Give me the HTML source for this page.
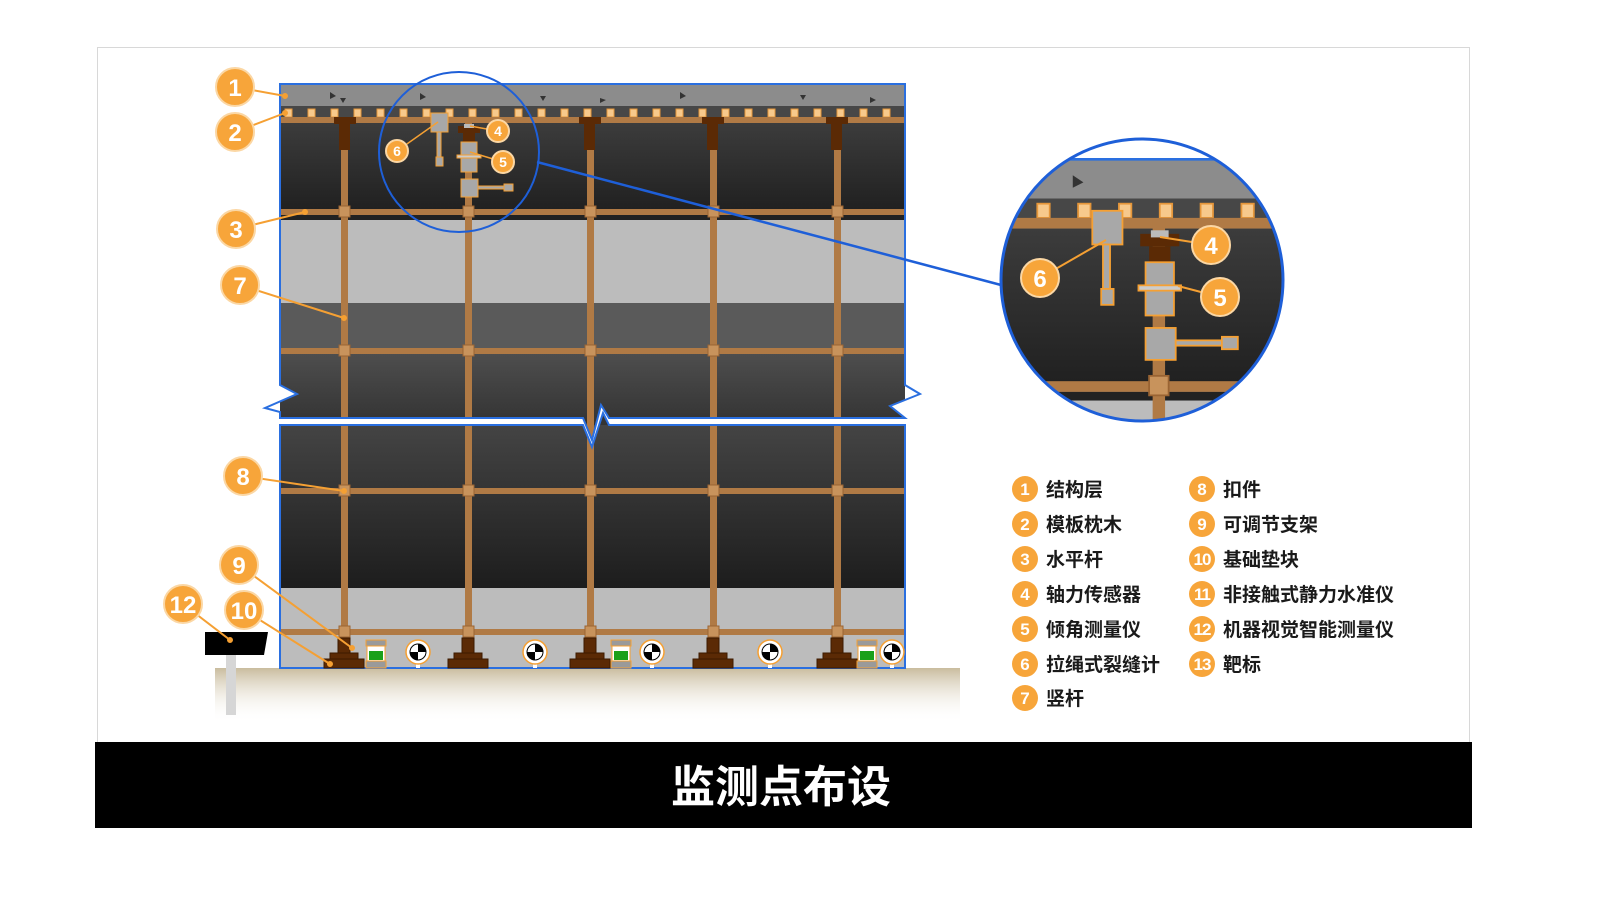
<!DOCTYPE html>
<html><head><meta charset="utf-8"><style>
html,body{margin:0;padding:0;background:#fff;width:1600px;height:898px;overflow:hidden;}
svg{display:block;}
text{font-family:"Liberation Sans","Noto Sans CJK SC",sans-serif;font-weight:bold;}
</style></head><body>
<svg width="1600" height="898" viewBox="0 0 1600 898" xmlns="http://www.w3.org/2000/svg">
<defs>
  <linearGradient id="gTop" x1="0" y1="0" x2="0" y2="1"><stop offset="0" stop-color="#3c3c3c"/><stop offset="1" stop-color="#1f1f1f"/></linearGradient>
  <linearGradient id="gMid" x1="0" y1="0" x2="0" y2="1"><stop offset="0" stop-color="#4e4e4e"/><stop offset="1" stop-color="#333"/></linearGradient>
  <linearGradient id="gLow" x1="0" y1="0" x2="0" y2="1"><stop offset="0" stop-color="#444"/><stop offset="1" stop-color="#1d1d1d"/></linearGradient>
  <linearGradient id="gGround" x1="0" y1="0" x2="0" y2="1"><stop offset="0" stop-color="#c9bc9e"/><stop offset="1" stop-color="#fff" stop-opacity="0"/></linearGradient>
  <clipPath id="cUp"><polygon points="280,84 905,84 905,385 920,394 890,406 905,418 609,418 601,405 592,440 583,418 280,418 280,412 265,408 297,394 280,385"/></clipPath>
  <clipPath id="cLow"><polygon points="280,425 583,425 592,447 603,413 609,425 905,425 905,668 280,668"/></clipPath>
  <clipPath id="cBig"><circle cx="1142" cy="280" r="141"/></clipPath>
  <g id="content">
    <rect x="280" y="84" width="625" height="22" fill="#8c8c8c"/>
    <g fill="#333">
      <polygon points="330,92 336,96 330,99"/><polygon points="340,98 346,98 343,103"/><polygon points="420,93 426,97 420,100"/>
      <polygon points="540,96 546,96 543,101"/><polygon points="600,98 606,100 600,103"/><polygon points="680,92 686,96 680,99"/>
      <polygon points="800,95 806,95 803,100"/><polygon points="870,97 876,100 870,103"/>
    </g>
    <rect x="280" y="106" width="625" height="12" fill="#474747"/>
    <g fill="#f7c98c" stroke="#e5963a" stroke-width="1">
      <rect x="285" y="109" width="7" height="8"/><rect x="308" y="109" width="7" height="8"/><rect x="331" y="109" width="7" height="8"/><rect x="354" y="109" width="7" height="8"/><rect x="377" y="109" width="7" height="8"/><rect x="400" y="109" width="7" height="8"/><rect x="423" y="109" width="7" height="8"/><rect x="446" y="109" width="7" height="8"/><rect x="469" y="109" width="7" height="8"/><rect x="492" y="109" width="7" height="8"/><rect x="515" y="109" width="7" height="8"/><rect x="538" y="109" width="7" height="8"/><rect x="561" y="109" width="7" height="8"/><rect x="584" y="109" width="7" height="8"/><rect x="607" y="109" width="7" height="8"/><rect x="630" y="109" width="7" height="8"/><rect x="653" y="109" width="7" height="8"/><rect x="676" y="109" width="7" height="8"/><rect x="699" y="109" width="7" height="8"/><rect x="722" y="109" width="7" height="8"/><rect x="745" y="109" width="7" height="8"/><rect x="768" y="109" width="7" height="8"/><rect x="791" y="109" width="7" height="8"/><rect x="814" y="109" width="7" height="8"/><rect x="837" y="109" width="7" height="8"/><rect x="860" y="109" width="7" height="8"/><rect x="883" y="109" width="7" height="8"/>
    </g>
    <rect x="280" y="123" width="625" height="92" fill="url(#gTop)"/>
    <rect x="280" y="215" width="625" height="5" fill="#222"/>
    <rect x="280" y="220" width="625" height="83" fill="#bcbcbc"/>
    <rect x="280" y="303" width="625" height="50" fill="#5a5a5a"/>
    <rect x="280" y="353" width="625" height="72" fill="url(#gMid)"/>
    <rect x="280" y="425" width="625" height="163" fill="url(#gLow)"/>
    <rect x="280" y="588" width="625" height="80" fill="#bcbcbc"/>
    <g fill="#b07a45">
      <rect x="280" y="117" width="625" height="6"/>
      <rect x="280" y="209" width="625" height="6"/>
      <rect x="280" y="348" width="625" height="6"/>
      <rect x="280" y="488" width="625" height="6"/>
      <rect x="280" y="629" width="625" height="6"/>
      <rect x="341" y="118" width="7" height="525"/><rect x="465" y="118" width="7" height="525"/><rect x="587" y="118" width="7" height="525"/><rect x="710" y="118" width="7" height="525"/><rect x="834" y="118" width="7" height="525"/>
    </g>
    <g fill="#c8935c" stroke="#9a6433" stroke-width="1">
      <rect x="339" y="206" width="11" height="11"/><rect x="463" y="206" width="11" height="11"/><rect x="585" y="206" width="11" height="11"/><rect x="708" y="206" width="11" height="11"/><rect x="832" y="206" width="11" height="11"/>
      <rect x="339" y="345" width="11" height="11"/><rect x="463" y="345" width="11" height="11"/><rect x="585" y="345" width="11" height="11"/><rect x="708" y="345" width="11" height="11"/><rect x="832" y="345" width="11" height="11"/>
      <rect x="339" y="485" width="11" height="11"/><rect x="463" y="485" width="11" height="11"/><rect x="585" y="485" width="11" height="11"/><rect x="708" y="485" width="11" height="11"/><rect x="832" y="485" width="11" height="11"/>
      <rect x="339" y="626" width="11" height="11"/><rect x="463" y="626" width="11" height="11"/><rect x="585" y="626" width="11" height="11"/><rect x="708" y="626" width="11" height="11"/><rect x="832" y="626" width="11" height="11"/>
    </g>
    <g fill="#5b2a05">
      <rect x="334" y="117" width="22" height="7"/><rect x="339" y="124" width="11" height="26"/>
      <rect x="579" y="117" width="22" height="7"/><rect x="584" y="124" width="11" height="26"/>
      <rect x="702" y="117" width="22" height="7"/><rect x="707" y="124" width="11" height="26"/>
      <rect x="826" y="117" width="22" height="7"/><rect x="831" y="124" width="11" height="26"/>
      <rect x="458" y="126" width="22" height="7"/><rect x="463" y="133" width="12" height="9"/>
    </g>
    <rect x="464" y="124" width="10" height="4" fill="#bbb"/>
    <g stroke="#f5a033" stroke-width="1" fill="#a8a8a8">
      <rect x="431" y="113" width="17" height="19"/><rect x="437" y="132" width="4" height="25"/><rect x="436" y="157" width="7" height="9"/>
      <rect x="461" y="142" width="16" height="30"/><rect x="457" y="155" width="24" height="3" fill="#ccc"/>
      <rect x="461" y="179" width="17" height="18"/><rect x="478" y="186" width="27" height="3"/><rect x="504" y="184" width="9" height="7"/>
    </g>
  </g>
</defs>

<rect x="97.5" y="47.5" width="1372" height="700" fill="#fff" stroke="#d8d8d8" stroke-width="1"/>
<rect x="215" y="668" width="745" height="55" fill="url(#gGround)"/>
<rect x="226" y="655" width="10" height="60" fill="#d6d6d6"/>
<polygon points="205,632 268,632 264,655 205,655" fill="#000"/>

<g clip-path="url(#cUp)"><use href="#content"/></g>
<g clip-path="url(#cLow)"><use href="#content"/></g>
<polygon points="280,84 905,84 905,385 920,394 890,406 905,418 609,418 601,405 592,440 583,418 280,418 280,412 265,408 297,394 280,385" fill="none" stroke="#2a6fe0" stroke-width="2"/>
<polygon points="280,425 583,425 592,447 603,413 609,425 905,425 905,668 280,668" fill="none" stroke="#2a6fe0" stroke-width="2"/>

<g fill="#5b2a05" stroke="#3d1a00" stroke-width="1">
  <rect x="338" y="638" width="12" height="16"/><rect x="330" y="653" width="28" height="7"/><rect x="324" y="659" width="40" height="9"/>
  <rect x="462" y="638" width="12" height="16"/><rect x="454" y="653" width="28" height="7"/><rect x="448" y="659" width="40" height="9"/>
  <rect x="584" y="638" width="12" height="16"/><rect x="576" y="653" width="28" height="7"/><rect x="570" y="659" width="40" height="9"/>
  <rect x="707" y="638" width="12" height="16"/><rect x="699" y="653" width="28" height="7"/><rect x="693" y="659" width="40" height="9"/>
  <rect x="831" y="638" width="12" height="16"/><rect x="823" y="653" width="28" height="7"/><rect x="817" y="659" width="40" height="9"/>
</g>
<g stroke="#f5a033" stroke-width="1">
  <rect x="366" y="640" width="20" height="6" fill="#9a9a9a"/><rect x="367" y="646" width="18" height="15" fill="#fff"/><rect x="369" y="651" width="14" height="9" fill="#1aa01a" stroke="none"/><rect x="366" y="661" width="20" height="7" fill="#9a9a9a"/>
  <rect x="611" y="640" width="20" height="6" fill="#9a9a9a"/><rect x="612" y="646" width="18" height="15" fill="#fff"/><rect x="614" y="651" width="14" height="9" fill="#1aa01a" stroke="none"/><rect x="611" y="661" width="20" height="7" fill="#9a9a9a"/>
  <rect x="857" y="640" width="20" height="6" fill="#9a9a9a"/><rect x="858" y="646" width="18" height="15" fill="#fff"/><rect x="860" y="651" width="14" height="9" fill="#1aa01a" stroke="none"/><rect x="857" y="661" width="20" height="7" fill="#9a9a9a"/>
</g>
<g>
  <g transform="translate(418,652)"><rect x="-2" y="10" width="4" height="6" fill="#fff"/><circle r="12" fill="#fff" stroke="#f5a033" stroke-width="1.5"/><path d="M0 0 L0 -8 A8 8 0 0 1 8 0 Z M0 0 L0 8 A8 8 0 0 1 -8 0 Z" fill="#000"/><circle r="8" fill="none" stroke="#000" stroke-width="1"/></g>
  <g transform="translate(535,652)"><rect x="-2" y="10" width="4" height="6" fill="#fff"/><circle r="12" fill="#fff" stroke="#f5a033" stroke-width="1.5"/><path d="M0 0 L0 -8 A8 8 0 0 1 8 0 Z M0 0 L0 8 A8 8 0 0 1 -8 0 Z" fill="#000"/><circle r="8" fill="none" stroke="#000" stroke-width="1"/></g>
  <g transform="translate(652,652)"><rect x="-2" y="10" width="4" height="6" fill="#fff"/><circle r="12" fill="#fff" stroke="#f5a033" stroke-width="1.5"/><path d="M0 0 L0 -8 A8 8 0 0 1 8 0 Z M0 0 L0 8 A8 8 0 0 1 -8 0 Z" fill="#000"/><circle r="8" fill="none" stroke="#000" stroke-width="1"/></g>
  <g transform="translate(770,652)"><rect x="-2" y="10" width="4" height="6" fill="#fff"/><circle r="12" fill="#fff" stroke="#f5a033" stroke-width="1.5"/><path d="M0 0 L0 -8 A8 8 0 0 1 8 0 Z M0 0 L0 8 A8 8 0 0 1 -8 0 Z" fill="#000"/><circle r="8" fill="none" stroke="#000" stroke-width="1"/></g>
  <g transform="translate(892,652)"><rect x="-2" y="10" width="4" height="6" fill="#fff"/><circle r="12" fill="#fff" stroke="#f5a033" stroke-width="1.5"/><path d="M0 0 L0 -8 A8 8 0 0 1 8 0 Z M0 0 L0 8 A8 8 0 0 1 -8 0 Z" fill="#000"/><circle r="8" fill="none" stroke="#000" stroke-width="1"/></g>
</g>

<circle cx="459" cy="152" r="80" fill="none" stroke="#1e5fd8" stroke-width="2"/>
<line x1="537" y1="162" x2="1001" y2="285" stroke="#1e5fd8" stroke-width="2.5"/>
<circle cx="1142" cy="280" r="141" fill="#fff"/>
<g clip-path="url(#cBig)"><g transform="translate(1142,280) scale(1.775) translate(-459,-152)"><use href="#content"/>
<line x1="280" y1="84" x2="905" y2="84" stroke="#2a6fe0" stroke-width="1.5"/></g></g>
<circle cx="1142" cy="280" r="141" fill="none" stroke="#1e5fd8" stroke-width="3"/>

<g stroke="#f5a033" stroke-width="2" fill="#f5a033">
  <line x1="235" y1="87" x2="285" y2="96"/><line x1="235" y1="132" x2="285" y2="113"/>
  <line x1="236" y1="229" x2="305" y2="212"/><line x1="240" y1="285" x2="344" y2="318"/>
  <line x1="243" y1="476" x2="344" y2="491"/><line x1="239" y1="565" x2="352" y2="648"/>
  <line x1="244" y1="610" x2="330" y2="664"/><line x1="183" y1="604" x2="230" y2="640"/>
  <line x1="397" y1="151" x2="438" y2="122" stroke-width="1.5"/><line x1="498" y1="131" x2="470" y2="126" stroke-width="1.5"/><line x1="503" y1="162" x2="470" y2="152" stroke-width="1.5"/>
  <line x1="1040" y1="278" x2="1106" y2="240"/><line x1="1211" y1="245" x2="1160" y2="237"/><line x1="1220" y1="297" x2="1178" y2="286"/>
  <circle cx="285" cy="96" r="2"/><circle cx="285" cy="113" r="2"/><circle cx="305" cy="212" r="2"/><circle cx="344" cy="318" r="2"/><circle cx="344" cy="491" r="2"/><circle cx="352" cy="648" r="2"/><circle cx="330" cy="664" r="2"/><circle cx="230" cy="640" r="2"/>
</g>
<g fill="#f7a53a" stroke="#fbd7a4" stroke-width="2">
  <circle cx="235" cy="87" r="19"/><circle cx="235" cy="132" r="19"/><circle cx="236" cy="229" r="19"/><circle cx="240" cy="285" r="19"/><circle cx="243" cy="476" r="19"/><circle cx="239" cy="565" r="19"/><circle cx="244" cy="610" r="19"/><circle cx="183" cy="604" r="19"/>
  <circle cx="498" cy="131" r="11"/><circle cx="503" cy="162" r="11"/><circle cx="397" cy="151" r="11"/>
  <circle cx="1211" cy="245" r="19"/><circle cx="1220" cy="297" r="19"/><circle cx="1040" cy="278" r="19"/>
</g>
<g fill="#fff" text-anchor="middle" font-size="24">
  <text x="235" y="96">1</text><text x="235" y="141">2</text><text x="236" y="238">3</text><text x="240" y="294">7</text><text x="243" y="485">8</text><text x="239" y="574">9</text><text x="244" y="619">10</text><text x="183" y="613">12</text>
  <text x="1211" y="254">4</text><text x="1220" y="306">5</text><text x="1040" y="287">6</text>
  <text x="498" y="136" font-size="14">4</text><text x="503" y="167" font-size="14">5</text><text x="397" y="156" font-size="14">6</text>
</g>

<g fill="#f7a53a">
  <circle cx="1025" cy="489" r="13"/><circle cx="1025" cy="524" r="13"/><circle cx="1025" cy="559" r="13"/><circle cx="1025" cy="594" r="13"/><circle cx="1025" cy="629" r="13"/><circle cx="1025" cy="664" r="13"/><circle cx="1025" cy="698" r="13"/>
  <circle cx="1202" cy="489" r="13"/><circle cx="1202" cy="524" r="13"/><circle cx="1202" cy="559" r="13"/><circle cx="1202" cy="594" r="13"/><circle cx="1202" cy="629" r="13"/><circle cx="1202" cy="664" r="13"/>
</g>
<g fill="#fff" text-anchor="middle" font-size="17">
  <text x="1025" y="495">1</text><text x="1025" y="530">2</text><text x="1025" y="565">3</text><text x="1025" y="600">4</text><text x="1025" y="635">5</text><text x="1025" y="670">6</text><text x="1025" y="704">7</text>
  <text x="1202" y="495">8</text><text x="1202" y="530">9</text><text x="1202" y="565" letter-spacing="-1">10</text><text x="1202" y="600" letter-spacing="-1">11</text><text x="1202" y="635" letter-spacing="-1">12</text><text x="1202" y="670" letter-spacing="-1">13</text>
</g>
<g fill="#1a1a1a" font-size="19">
  <text x="1046" y="496">结构层</text><text x="1046" y="531">模板枕木</text><text x="1046" y="566">水平杆</text><text x="1046" y="601">轴力传感器</text><text x="1046" y="636">倾角测量仪</text><text x="1046" y="671">拉绳式裂缝计</text><text x="1046" y="705">竖杆</text>
  <text x="1223" y="496">扣件</text><text x="1223" y="531">可调节支架</text><text x="1223" y="566">基础垫块</text><text x="1223" y="601">非接触式静力水准仪</text><text x="1223" y="636">机器视觉智能测量仪</text><text x="1223" y="671">靶标</text>
</g>

<rect x="95" y="742" width="1377" height="86" fill="#000"/>
<text x="781" y="802" fill="#fff" font-size="44" text-anchor="middle">监测点布设</text>
</svg>
</body></html>
